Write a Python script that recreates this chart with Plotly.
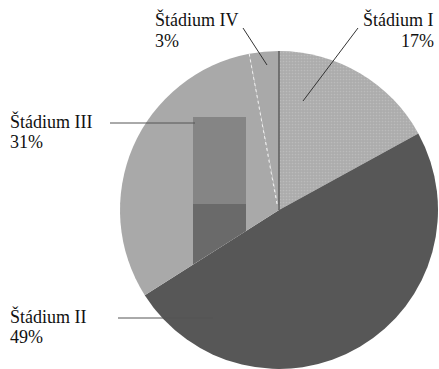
import math
import plotly.graph_objects as go

# Stage distribution
stages = ["Štádium I", "Štádium II", "Štádium III", "Štádium IV"]
shares = [17, 49, 31, 3]
slice_colors = ["#acacac", "#575757", "#a9a9a9", "#a9a9a9"]
slice_patterns = [".", "", "", ""]

W, H = 439, 369
FONT = "Liberation Serif, Times New Roman, serif"


def px(x):
    return x / W


def py(y):
    return 1 - y / H


# pie placement (pixels): domain spans x 119..439, y 51..369
dom_x = [px(119), 1.0]
dom_y = [0.0, py(51)]
cx = 119 + (439 - 119) / 2
r = min(439 - 119, 369 - 51) / 2
cy = 369 - r

fig = go.Figure(
    go.Pie(
        labels=stages,
        values=shares,
        sort=False,
        direction="clockwise",
        rotation=0,
        textinfo="none",
        hoverinfo="label+percent",
        showlegend=False,
        domain=dict(x=dom_x, y=dom_y),
        marker=dict(
            colors=slice_colors,
            line=dict(width=0),
            pattern=dict(shape=slice_patterns, fgcolor="#c9c9c9",
                         size=3, solidity=0.25, fillmode="overlay"),
        ),
    )
)


def edge_point(frac):
    """Point on the rim at a cumulative fraction, clockwise from 12 o'clock."""
    a = 2 * math.pi * frac
    return cx + r * math.sin(a), cy - r * math.cos(a)


shapes = []
total = sum(shares)
cum = [sum(shares[:i]) / total for i in range(len(shares))]

# shaded block inside Štádium III
shapes.append(dict(type="path", xref="paper", yref="paper",
                   path=f"M {px(193)} {py(117)} L {px(246)} {py(117)} L {px(246)} {py(204)} L {px(193)} {py(204)} Z",
                   fillcolor="#858585", line=dict(width=0)))
x3, y3 = edge_point(cum[2])


def on_boundary(x):
    return cy + (cx - x) * (y3 - cy) / (cx - x3)


shapes.append(dict(type="path", xref="paper", yref="paper",
                   path=(f"M {px(193)} {py(204)} L {px(246)} {py(204)} "
                         f"L {px(246)} {py(on_boundary(246))} L {px(193)} {py(on_boundary(193))} Z"),
                   fillcolor="#6a6a6a", line=dict(width=0)))

# boundary between Štádium IV and Štádium I (dark rule at 12 o'clock)
x0, y0 = edge_point(0.0)
shapes.append(dict(type="line", xref="paper", yref="paper",
                   x0=px(cx), y0=py(cy), x1=px(x0), y1=py(y0),
                   line=dict(color="#4a4a4a", width=1.2)))
# boundary between Štádium III and Štádium IV (white dashed rule)
x4, y4 = edge_point(cum[3])
shapes.append(dict(type="line", xref="paper", yref="paper",
                   x0=px(cx - 2), y0=py(cy - 6), x1=px(x4), y1=py(y4),
                   line=dict(color="#f2f2f2", width=1, dash="dot")))

# leader lines
leaders = [
    ((358, 28), (303, 101), "#333333"),
    ((243, 28), (267, 65), "#333333"),
    ((110, 123), (195, 123), "#555555"),
    ((118, 318), (213, 318), "#555555"),
]
for (a, b, c) in leaders:
    shapes.append(dict(type="line", xref="paper", yref="paper",
                       x0=px(a[0]), y0=py(a[1]), x1=px(b[0]), y1=py(b[1]),
                       line=dict(color=c, width=1)))

# label anchors: (x, baseline of first line, x anchor)
label_pos = [(436, 26, "right"), (8, 322, "left"), (8, 127, "left"), (153, 26, "left")]
annotations = []
for name, val, (lx, base, anchor) in zip(stages, shares, label_pos):
    for text, b in ((name, base), (f"{val}%", base + 21)):
        annotations.append(dict(text=text, xref="paper", yref="paper",
                                x=px(lx), y=py(b - 6), xanchor=anchor, yanchor="middle",
                                showarrow=False,
                                font=dict(family=FONT, size=18, color="#111111")))

fig.update_layout(
    width=W, height=H, autosize=False,
    margin=dict(l=0, r=0, t=0, b=0),
    paper_bgcolor="white", plot_bgcolor="white",
    shapes=shapes, annotations=annotations,
)

fig.write_html("out.html")
